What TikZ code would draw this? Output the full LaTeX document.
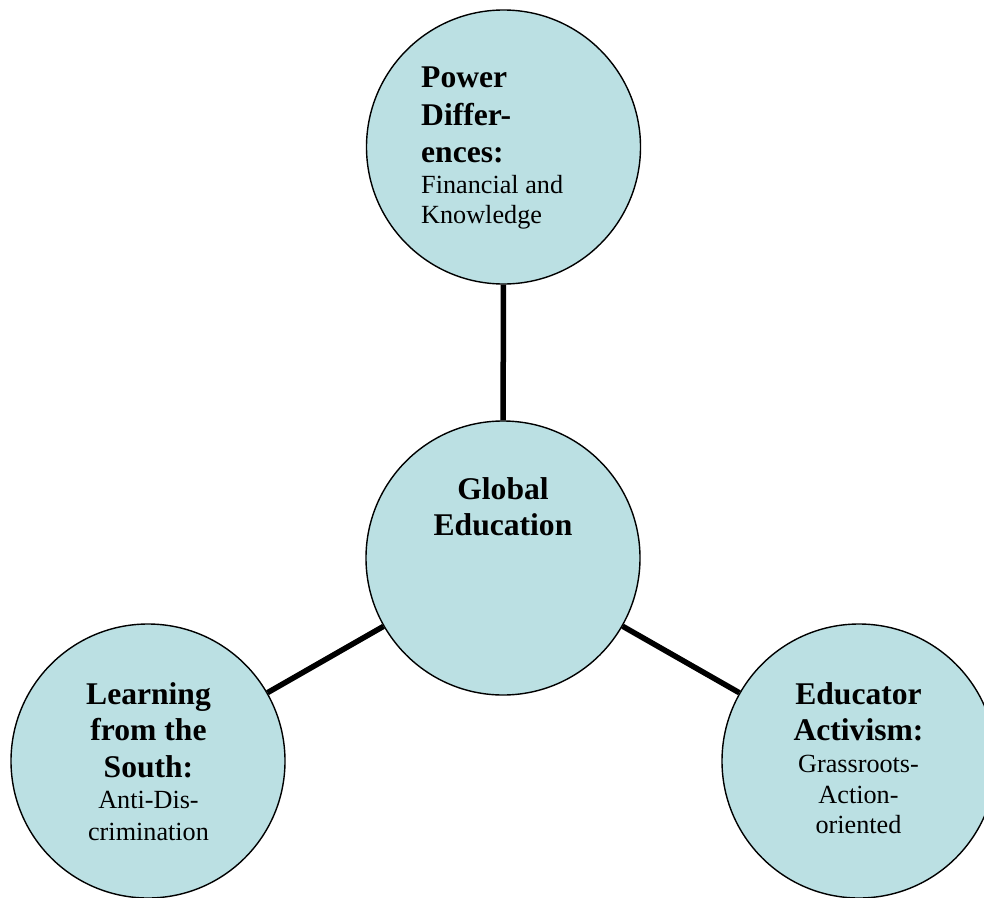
\documentclass[tikz,border=0pt]{standalone}
\usepackage{fontspec}
\setmainfont{Liberation Serif}
\definecolor{bubble}{RGB}{187,224,227}
\tikzset{
  bubble/.style={circle, draw=black, line width=1.4pt, fill=bubble, minimum size=274pt, inner sep=0pt},
  link/.style={line width=5.5pt, black},
  ttl/.style={font=\fontsize{31.6}{37}\selectfont\bfseries, inner sep=0pt},
  sub/.style={font=\fontsize{26.2}{30}\selectfont, inner sep=0pt}
}
\begin{document}
\begin{tikzpicture}[x=1pt,y=-1pt]
\useasboundingbox (0,0) rectangle (984,897);
\clip (0,0) rectangle (984,897);
\node[bubble] (top) at (503.5,147) {};
\node[bubble] (mid) at (503,558) {};
\node[bubble] (bl) at (148,761) {};
\node[bubble] (br) at (859,761) {};
\draw[link] (mid) -- (top);
\draw[link] (mid) -- (bl);
\draw[link] (mid) -- (br);
% top circle text
\node[ttl, anchor=base west] (t1) at (421,87) {Power};
\node[ttl, anchor=base west] (t2) at (421,125) {Differ-};
\node[ttl, anchor=base west] (t3) at (421,162) {ences:};
\node[sub, anchor=base west] (t4) at (421,193) {Financial and};
\node[sub, anchor=base west] (t5) at (421,223) {Knowledge};
% center
\node[ttl, anchor=base] (m1) at (503,499) {Global};
\node[ttl, anchor=base] (m2) at (503,535) {Education};
% bottom left
\node[ttl, anchor=base] (l1) at (148.5,704) {Learning};
\node[ttl, anchor=base] (l2) at (148.5,740) {from the};
\node[ttl, anchor=base] (l3) at (148.5,777) {South:};
\node[sub, anchor=base] (l4) at (148.5,808) {Anti-Dis-};
\node[sub, anchor=base] (l5) at (148.5,840) {crimination};
% bottom right
\node[ttl, anchor=base] (r1) at (858.5,704) {Educator};
\node[ttl, anchor=base] (r2) at (858.5,740) {Activism:};
\node[sub, anchor=base] (r3) at (858.5,772) {Grassroots-};
\node[sub, anchor=base] (r4) at (858.5,803) {Action-};
\node[sub, anchor=base] (r5) at (858.5,833) {oriented};
\end{tikzpicture}
\end{document}
